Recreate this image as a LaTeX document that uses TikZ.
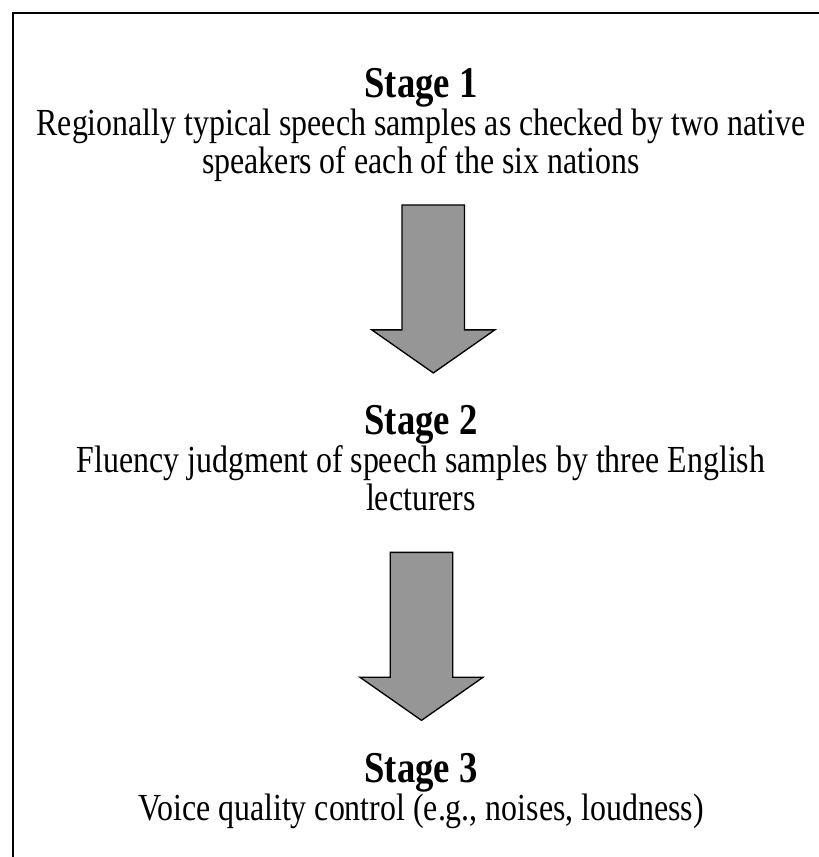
\documentclass[tikz,border=0pt]{standalone}
\usepackage{fontspec}
\setmainfont{Liberation Serif}
\usepackage{tikz}
\usetikzlibrary{shapes.arrows}
\definecolor{arrowgray}{RGB}{150,150,150}
\tikzset{
  stagebox/.style={
    align=center,
    anchor=north,
    inner sep=0pt,
    yscale=1.2,
    font=\fontsize{12}{11.8}\selectfont
  },
  blockarrow/.style={
    single arrow,
    draw=black,
    fill=arrowgray,
    line width=0.5pt,
    rotate=-90,
    anchor=tail,
    inner xsep=0pt,
    inner ysep=11.5pt,
    minimum height=63.2pt,
    minimum width=45.75pt,
    single arrow head extend=11.4pt,
    single arrow tip angle=110
  },
  framerule/.style={draw=black,line width=0.75pt}
}
\newcommand{\stagehead}[1]{{\fontsize{13.8}{13}\selectfont\bfseries #1}}

\begin{document}
\begin{tikzpicture}[x=0.3762pt,y=-0.3762pt]
\useasboundingbox (0,0) rectangle (818,857);
% frame: only top and left sides show
\coordinate (frameBL) at (13,860);
\coordinate (frameTR) at (821,13);
\draw[framerule] (frameBL) |- (frameTR);
\node[stagebox] (regional) at (421,68) {\stagehead{Stage 1}\\Regionally typical speech samples as checked by two native\\speakers of each of the six nations};
\node[blockarrow] (arrowA) at (433.3,204.3) {};
\node[stagebox] (fluency) at (421,405) {\stagehead{Stage 2}\\Fluency judgment of speech samples by three English\\lecturers};
\node[blockarrow] (arrowB) at (421.5,551.7) {};
\node[stagebox] (voice) at (421,753) {\stagehead{Stage 3}\\Voice quality control (e.g., noises, loudness)};
\end{tikzpicture}
\end{document}
